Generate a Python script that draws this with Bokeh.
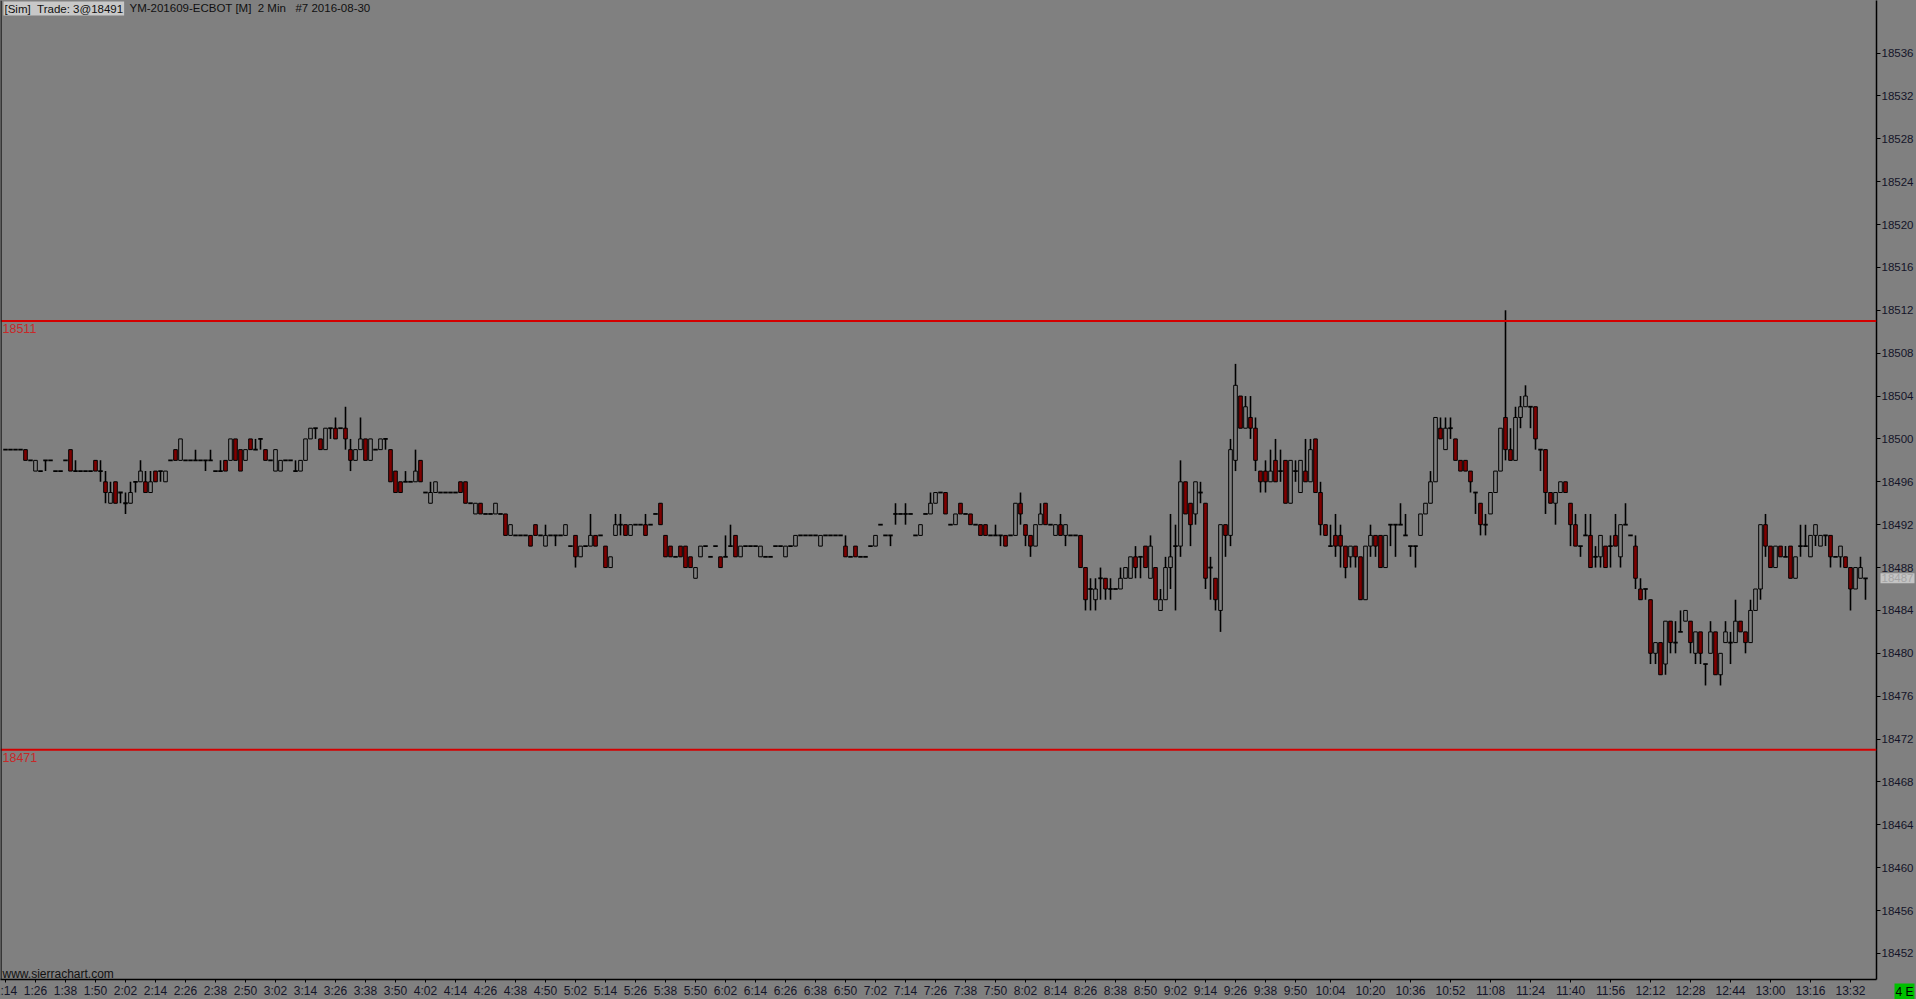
from bokeh.plotting import figure
from bokeh.models import ColumnDataSource, LinearAxis, FixedTicker, Span, Label, Range1d
from bokeh.embed import file_html
from bokeh.resources import INLINE

# ---------------- data (YM 2-min bars, 2016-08-30) ----------------
opens = [
    18499,18499,18499,18499,18499,18498,18497,18497,18498,18498,
    18497,18497,18498,18499,18497,18497,18497,18497,18498,18497,
    18496,18494,18496,18495,18494,18494,18496,18496,18496,18495,
    18497,18497,18496,18498,18499,18498,18498,18498,18498,18498,
    18498,18498,18497,18497,18498,18498,18500,18499,18498,18500,
    18499,18500,18499,18498,18497,18497,18498,18498,18497,18497,
    18498,18500,18501,18500,18499,18501,18501,18501,18501,18499,
    18498,18499,18500,18498,18499,18499,18500,18499,18497,18496,
    18496,18496,18496,18498,18495,18494,18495,18495,18495,18495,
    18495,18496,18496,18494,18493,18494,18493,18493,18493,18493,
    18493,18491,18491,18491,18491,18491,18492,18491,18490,18491,
    18491,18491,18491,18490,18491,18489,18490,18490,18491,18491,
    18490,18488,18491,18492,18492,18491,18492,18492,18492,18492,
    18493,18494,18491,18490,18489,18490,18490,18489,18487,18489,
    18490,18489,18490,18489,18489,18490,18491,18489,18490,18490,
    18490,18489,18489,18489,18490,18490,18489,18490,18490,18491,
    18491,18491,18491,18490,18491,18491,18491,18491,18490,18489,
    18490,18489,18489,18490,18490,18492,18491,18491,18493,18493,
    18493,18493,18491,18491,18493,18493,18494,18495,18495,18492,
    18492,18494,18493,18493,18492,18492,18492,18491,18491,18491,
    18491,18491,18491,18494,18492,18491,18490,18492,18494,18492,
    18491,18492,18491,18491,18491,18491,18488,18486,18485,18487,
    18487,18486,18486,18486,18487,18487,18489,18489,18490,18487,
    18488,18484,18485,18488,18490,18490,18496,18494,18493,18495,
    18494,18488,18487,18484,18492,18491,18498,18504,18501,18502,
    18501,18497,18497,18496,18498,18497,18498,18494,18497,18495,
    18497,18496,18500,18495,18492,18490,18491,18491,18490,18489,
    18490,18489,18485,18490,18491,18491,18488,18492,18492,18492,
    18491,18490,18490,18491,18493,18494,18496,18501,18499,18501,
    18500,18498,18498,18497,18495,18494,18492,18493,18495,18497,
    18502,18499,18498,18502,18503,18503,18503,18499,18499,18495,
    18494,18495,18496,18494,18492,18490,18491,18491,18489,18489,
    18490,18490,18491,18489,18492,18491,18490,18486,18486,18485,
    18480,18481,18479,18483,18481,18482,18483,18483,18480,18482,
    18479,18480,18482,18478,18481,18481,18481,18483,18482,18481,
    18484,18486,18492,18490,18488,18490,18489,18490,18487,18490,
    18490,18489,18491,18490,18491,18491,18489,18489,18489,18488,
    18486,18487,18487,
]
highs = [
    18499,18499,18499,18499,18499,18498,18498,18497,18498,18498,
    18497,18497,18498,18499,18498,18497,18497,18497,18498,18498,
    18497,18496,18496,18495,18495,18496,18496,18498,18497,18497,
    18497,18497,18497,18498,18499,18500,18498,18498,18499,18498,
    18498,18499,18497,18498,18498,18500,18500,18499,18499,18500,
    18500,18500,18499,18498,18499,18498,18498,18498,18498,18498,
    18500,18501,18501,18500,18501,18501,18502,18501,18503,18500,
    18499,18502,18500,18500,18499,18500,18500,18499,18497,18496,
    18497,18496,18499,18498,18495,18496,18496,18495,18495,18495,
    18495,18496,18496,18494,18494,18494,18493,18493,18494,18493,
    18493,18492,18491,18491,18491,18491,18492,18491,18492,18491,
    18491,18491,18492,18490,18491,18490,18490,18493,18491,18491,
    18490,18489,18493,18493,18492,18492,18492,18492,18493,18492,
    18493,18494,18491,18490,18489,18490,18490,18489,18488,18490,
    18490,18489,18490,18489,18491,18492,18491,18490,18490,18490,
    18490,18490,18489,18489,18490,18490,18490,18490,18491,18491,
    18491,18491,18491,18491,18491,18491,18491,18491,18491,18489,
    18490,18489,18489,18490,18491,18492,18491,18491,18494,18493,
    18494,18493,18491,18492,18493,18495,18495,18495,18495,18492,
    18493,18494,18493,18493,18492,18492,18492,18491,18492,18491,
    18491,18491,18494,18495,18492,18491,18492,18494,18494,18492,
    18492,18493,18492,18491,18491,18491,18488,18487,18487,18488,
    18487,18487,18486,18488,18488,18489,18490,18489,18490,18491,
    18488,18486,18489,18493,18492,18498,18496,18494,18496,18496,
    18494,18489,18487,18492,18492,18500,18507,18504,18504,18504,
    18502,18497,18498,18499,18500,18499,18498,18498,18498,18498,
    18500,18500,18500,18496,18492,18492,18493,18492,18490,18490,
    18490,18489,18490,18492,18491,18491,18491,18492,18492,18494,
    18493,18490,18490,18493,18494,18497,18502,18502,18502,18502,
    18500,18498,18498,18497,18495,18494,18493,18495,18497,18501,
    18512,18501,18503,18504,18505,18503,18503,18499,18499,18495,
    18495,18496,18496,18494,18493,18490,18493,18493,18490,18491,
    18490,18491,18493,18492,18494,18491,18491,18487,18486,18485,
    18481,18481,18483,18483,18483,18484,18484,18483,18482,18482,
    18479,18483,18482,18480,18483,18482,18485,18483,18482,18485,
    18486,18492,18493,18490,18490,18490,18490,18490,18489,18492,
    18492,18491,18492,18491,18491,18491,18489,18490,18489,18488,
    18488,18489,18487,
]
lows = [
    18499,18499,18499,18499,18498,18498,18497,18497,18497,18498,
    18497,18497,18498,18497,18497,18497,18497,18497,18497,18496,
    18494,18494,18494,18494,18493,18494,18495,18496,18495,18495,
    18496,18496,18496,18498,18498,18498,18498,18498,18498,18498,
    18497,18498,18497,18497,18497,18498,18498,18497,18498,18499,
    18499,18499,18498,18498,18497,18497,18498,18498,18497,18497,
    18498,18500,18500,18499,18499,18500,18500,18501,18499,18497,
    18498,18499,18498,18498,18499,18499,18499,18496,18495,18495,
    18496,18496,18496,18496,18495,18494,18495,18495,18495,18495,
    18495,18495,18494,18494,18493,18493,18493,18493,18493,18493,
    18491,18491,18491,18491,18491,18490,18491,18491,18490,18491,
    18490,18491,18491,18490,18488,18489,18490,18490,18490,18491,
    18488,18488,18491,18491,18491,18491,18492,18492,18491,18492,
    18493,18492,18489,18489,18489,18489,18488,18488,18487,18489,
    18490,18489,18490,18488,18489,18490,18489,18489,18490,18490,
    18490,18489,18489,18489,18490,18490,18489,18490,18490,18491,
    18491,18491,18491,18490,18491,18491,18491,18491,18489,18489,
    18489,18489,18489,18490,18490,18492,18491,18490,18492,18493,
    18492,18493,18491,18491,18493,18493,18494,18495,18493,18492,
    18492,18493,18493,18492,18492,18491,18491,18491,18491,18490,
    18490,18491,18491,18492,18490,18489,18490,18492,18492,18492,
    18491,18491,18490,18491,18491,18488,18484,18484,18484,18485,
    18485,18485,18486,18486,18487,18487,18487,18487,18488,18487,
    18485,18484,18485,18486,18484,18489,18493,18490,18492,18494,
    18486,18485,18484,18482,18489,18490,18497,18501,18501,18500,
    18497,18495,18495,18496,18496,18496,18494,18494,18496,18495,
    18496,18496,18495,18491,18491,18490,18489,18488,18487,18488,
    18488,18485,18485,18489,18489,18488,18488,18490,18489,18492,
    18491,18489,18488,18491,18493,18494,18496,18500,18499,18500,
    18498,18497,18497,18495,18493,18491,18491,18493,18495,18497,
    18498,18498,18498,18501,18503,18501,18499,18497,18493,18494,
    18492,18495,18495,18490,18490,18489,18491,18488,18488,18488,
    18488,18488,18490,18488,18492,18491,18486,18485,18485,18479,
    18479,18478,18478,18480,18480,18482,18483,18480,18479,18479,
    18477,18480,18478,18477,18481,18479,18481,18482,18480,18481,
    18484,18485,18489,18488,18488,18489,18489,18487,18487,18489,
    18490,18489,18490,18490,18490,18488,18489,18488,18488,18484,
    18486,18487,18485,
]
closes = [
    18499,18499,18499,18499,18498,18498,18498,18497,18498,18498,
    18497,18497,18498,18497,18497,18497,18497,18497,18497,18497,
    18495,18495,18494,18495,18494,18495,18496,18497,18495,18496,
    18496,18497,18497,18498,18498,18500,18498,18498,18498,18498,
    18498,18498,18497,18497,18497,18500,18498,18497,18499,18499,
    18499,18500,18498,18498,18499,18498,18498,18498,18497,18498,
    18500,18501,18501,18499,18501,18501,18500,18501,18500,18498,
    18499,18500,18498,18500,18499,18500,18500,18496,18495,18495,
    18496,18496,18497,18496,18495,18495,18496,18495,18495,18495,
    18495,18495,18494,18494,18494,18493,18493,18493,18494,18493,
    18491,18492,18491,18491,18491,18490,18491,18491,18491,18491,
    18491,18491,18492,18490,18489,18490,18490,18491,18490,18491,
    18488,18489,18492,18492,18491,18492,18492,18492,18491,18492,
    18493,18492,18489,18489,18489,18489,18488,18488,18488,18490,
    18490,18489,18490,18488,18489,18490,18489,18490,18490,18490,
    18490,18490,18489,18489,18490,18490,18490,18490,18491,18491,
    18491,18491,18491,18491,18491,18491,18491,18491,18489,18489,
    18489,18489,18489,18490,18491,18492,18491,18491,18493,18493,
    18493,18493,18491,18492,18493,18494,18495,18495,18493,18492,
    18493,18493,18493,18492,18492,18491,18491,18491,18491,18491,
    18490,18491,18494,18493,18491,18490,18492,18493,18492,18492,
    18492,18491,18492,18491,18491,18488,18485,18486,18486,18487,
    18486,18486,18486,18487,18488,18489,18488,18489,18488,18490,
    18485,18485,18488,18489,18490,18496,18493,18492,18496,18495,
    18487,18488,18485,18492,18491,18499,18505,18501,18503,18501,
    18498,18496,18496,18497,18496,18497,18494,18498,18497,18498,
    18496,18499,18495,18492,18491,18490,18490,18490,18488,18490,
    18489,18485,18490,18491,18490,18488,18491,18492,18492,18492,
    18491,18490,18490,18493,18494,18496,18502,18500,18501,18501,
    18498,18497,18497,18496,18495,18492,18492,18495,18497,18501,
    18499,18498,18502,18503,18504,18503,18500,18499,18495,18494,
    18495,18496,18495,18492,18490,18490,18491,18488,18489,18491,
    18488,18490,18490,18492,18492,18491,18487,18485,18486,18480,
    18481,18478,18483,18481,18481,18482,18484,18481,18482,18480,
    18479,18482,18478,18480,18482,18481,18483,18482,18481,18484,
    18486,18492,18490,18488,18490,18489,18489,18487,18489,18490,
    18490,18491,18492,18491,18491,18489,18489,18490,18488,18486,
    18488,18488,18487,
]

time_labels = [
    "1:14","1:26","1:38","1:50","2:02","2:14","2:26","2:38","2:50","3:02",
    "3:14","3:26","3:38","3:50","4:02","4:14","4:26","4:38","4:50","5:02",
    "5:14","5:26","5:38","5:50","6:02","6:14","6:26","6:38","6:50","7:02",
    "7:14","7:26","7:38","7:50","8:02","8:14","8:26","8:38","8:50","9:02",
    "9:14","9:26","9:38","9:50","10:04","10:20","10:36","10:52","11:08",
    "11:24","11:40","11:56","12:12","12:28","12:44","13:00","13:16","13:32",
]
first_bar_time = "1:14"
bar_minutes = 2
price_ticks = [18452, 18456, 18460, 18464, 18468, 18472, 18476, 18480, 18484,
               18488, 18492, 18496, 18500, 18504, 18508, 18512, 18516, 18520,
               18524, 18528, 18532, 18536]
level_lines = [18511, 18471]
NB = "\u00a0"
header_left = "[Sim]" + NB + NB + "Trade: 3@18491"
header_right = ("YM-201609-ECBOT [M]" + NB + NB + "2 Min" + NB + NB + NB
                + "#7 2016-08-30")
footer_text = "www.sierrachart.com"
status_text = "4 E"

# ---------------- styling / layout ----------------
BG = "#808080"
DOWN = "#800000"
TXT = "#141428"
FRAME_W, FRAME_H = 1876, 979
PX_PER_BAR = 5.0
PX_PER_PT = 10.72
X0 = -1.0
X1 = X0 + FRAME_W / PX_PER_BAR
Y_TOP = 18536 + 52.5 / PX_PER_PT
Y_BOT = Y_TOP - FRAME_H / PX_PER_PT


def X(px):
    return X0 + px / PX_PER_BAR


def Y(py):
    return Y_TOP - py / PX_PER_PT


def minutes(t):
    h, m = t.split(":")
    return int(h) * 60 + int(m)


n = len(opens)
idx = list(range(n))
up_i = [i for i in idx if closes[i] > opens[i]]
dn_i = [i for i in idx if closes[i] < opens[i]]
dj_i = [i for i in idx if closes[i] == opens[i]]

src_all = ColumnDataSource(dict(x=idx, h=highs, l=lows))
src_up = ColumnDataSource(dict(x=up_i, t=[closes[i] for i in up_i], b=[opens[i] for i in up_i]))
src_dn = ColumnDataSource(dict(x=dn_i, t=[opens[i] for i in dn_i], b=[closes[i] for i in dn_i]))
src_dj = ColumnDataSource(dict(x=dj_i, y=[opens[i] for i in dj_i]))

p = figure(width=1916, height=999, frame_width=FRAME_W, frame_height=FRAME_H,
           x_range=Range1d(X0, X1), y_range=Range1d(Y_BOT, Y_TOP),
           output_backend="svg", toolbar_location=None,
           x_axis_location=None, y_axis_location=None,
           background_fill_color=BG, border_fill_color=BG,
           min_border_left=0, min_border_top=0, min_border_right=40, min_border_bottom=20,
           outline_line_color=None)
p.grid.visible = False

# level lines
for lv in level_lines:
    p.add_layout(Span(location=lv, dimension="width", line_color="#d40000", line_width=2))
    p.add_layout(Label(x=X(2), y=lv, y_offset=-3, text=str(lv), text_baseline="top",
                       text_font="Liberation Sans", text_font_size="12.5px", text_color="#c82828"))

# left border
p.add_layout(Span(location=X(0.5), dimension="height", line_color="#1e1e1e", line_width=1.5))

# candles
p.segment(x0="x", y0="l", x1="x", y1="h", source=src_all, line_color="black", line_width=1.6)
p.vbar(x="x", width=0.72, top="t", bottom="b", source=src_up,
       fill_color=BG, line_color="black", line_width=1)
p.vbar(x="x", width=0.72, top="t", bottom="b", source=src_dn,
       fill_color=DOWN, line_color="black", line_width=1)
p.scatter(x="x", y="y", source=src_dj, marker="dash", size=4.5,
          line_color="black", line_width=1.8)

# right price axis
yax = LinearAxis(ticker=FixedTicker(ticks=price_ticks),
                 axis_line_color="black", axis_line_width=1.5,
                 major_tick_line_color="black", major_tick_out=4, major_tick_in=0,
                 minor_tick_line_color=None,
                 major_label_text_font="Liberation Sans", major_label_text_font_size="11.5px",
                 major_label_text_color=TXT, major_label_standoff=1)
p.add_layout(yax, "right")

# bottom time axis (first label is drawn separately so it can run off the left edge)
tick_bars = [(minutes(t) - minutes(first_bar_time)) // bar_minutes for t in time_labels]
overrides = {b: t for b, t in zip(tick_bars, time_labels)}
overrides[tick_bars[0]] = ""
xax = LinearAxis(ticker=FixedTicker(ticks=tick_bars),
                 major_label_overrides=overrides,
                 axis_line_color="black", axis_line_width=1.5,
                 major_tick_line_color="black", major_tick_out=3, major_tick_in=0,
                 minor_tick_line_color=None,
                 major_label_text_font="Liberation Sans Narrow, Liberation Sans",
                 major_label_text_font_size="12px",
                 major_label_text_color=TXT, major_label_standoff=1)
p.add_layout(xax, "below")
p.add_layout(Label(x=tick_bars[0], y=Y(983), text=time_labels[0], text_align="center",
                   text_baseline="top", text_font="Liberation Sans Narrow, Liberation Sans",
                   text_font_size="12px", text_color=TXT), "below")

# header
p.add_layout(Label(x=X(3), y=Y(1), text=header_left, text_baseline="top",
                   text_font="Liberation Sans", text_font_size="11.5px", text_color="#101010",
                   background_fill_color="#c8c8c8", padding=1))
p.add_layout(Label(x=X(129), y=Y(1), text=header_right, text_baseline="top",
                   text_font="Liberation Sans", text_font_size="11.5px", text_color="#101010"))

# footer
p.add_layout(Label(x=X(2), y=Y(966), text=footer_text, text_baseline="top",
                   text_font="Liberation Sans", text_font_size="12px", text_color="#101010"))

# last price marker on the axis
p.add_layout(Label(x=X(1880), y=closes[-1], text=str(closes[-1]), text_baseline="middle",
                   text_font="Liberation Sans", text_font_size="11.5px", text_color="#a4a4a4",
                   background_fill_color="#c4c4c4", padding=1), "right")

# status box
p.add_layout(Label(x=X(1894), y=Y(983), text=status_text, text_baseline="top",
                   text_font="Liberation Sans", text_font_size="12px", text_color="#000000",
                   background_fill_color="#00c000", padding=1), "right")

html = file_html(p, INLINE, title="YM-201609-ECBOT 2 Min")
html = html.replace("</head>",
                    "<style>html,body{margin:0;padding:0;background:#808080;overflow:hidden;}</style></head>", 1)
open("out.html", "w").write(html)
